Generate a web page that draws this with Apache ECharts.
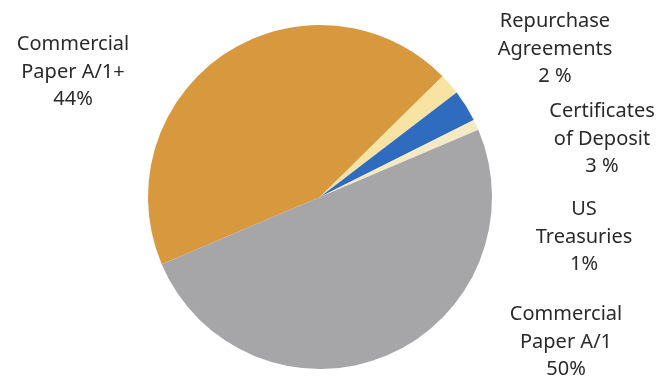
<!DOCTYPE html>
<html>
<head>
<meta charset="utf-8">
<script src="https://cdn.jsdelivr.net/npm/echarts@6/dist/echarts.min.js"></script>
<style>
html,body{margin:0;padding:0;background:#fff;}
#chart{width:672px;height:380px;}
</style>
</head>
<body>
<div id="chart"></div>
<script>
// Data
var categories = ['Commercial\nPaper A/1+', 'Repurchase\nAgreements', 'Certificates\nof Deposit', 'US\nTreasuries', 'Commercial\nPaper A/1'];
var values = [44, 2, 3, 1, 50];
var valueLabels = ['44%', '2 %', '3 %', '1%', '50%'];
var colors = ['#d8983e', '#f8e3a2', '#2f6cc0', '#f4ebc6', '#a6a6a8'];

// Label anchor positions (center x, top y)
var labelPos = [[73, 31], [555, 8], [602, 98], [584, 196], [566, 301]];

var chart = echarts.init(document.getElementById('chart'), null, {renderer: 'canvas'});
var data = categories.map(function (c, i) {
  return { name: c, value: values[i], itemStyle: { color: colors[i] } };
});
chart.setOption({
  animation: false,
  backgroundColor: '#ffffff',
  series: [{
    type: 'pie',
    center: [320, 197],
    radius: [0, 172],
    startAngle: 203,
    clockwise: true,
    data: data,
    itemStyle: { borderWidth: 0 },
    label: {
      show: true,
      position: 'outside',
      fontFamily: 'Noto Sans',
      fontSize: 20,
      lineHeight: 27.5,
      color: '#2a2a2a',
      align: 'center',
      formatter: function (p) { return p.name + '\n' + valueLabels[p.dataIndex]; }
    },
    labelLine: { show: false },
    labelLayout: function (params) {
      var p = labelPos[params.dataIndex];
      return { x: p[0], y: p[1], align: 'center', verticalAlign: 'top' };
    }
  }]
});
</script>
</body>
</html>
